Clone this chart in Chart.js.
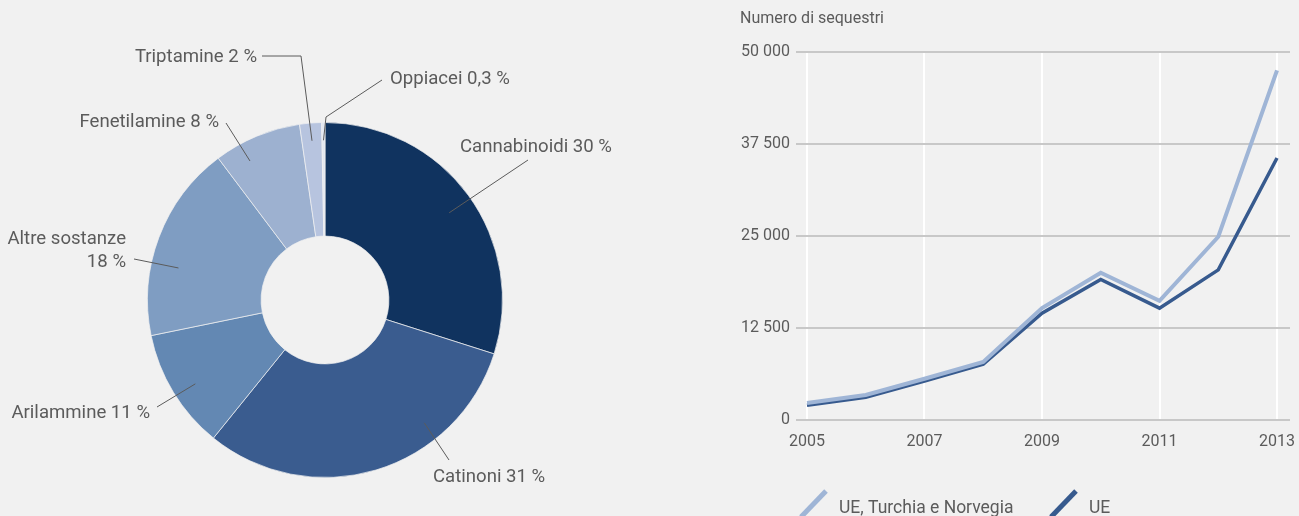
<!DOCTYPE html>
<html lang="it">
<head>
<meta charset="utf-8">
<script src="https://cdn.jsdelivr.net/npm/chart.js@4.4.1/dist/chart.umd.min.js"></script>
<style>
    html, body { margin: 0; padding: 0; background: #f1f1f1; }
    #wrap { position: relative; width: 1299px; height: 516px; overflow: hidden; }
    #substances-chart { position: absolute; left: 0; top: 0; }
    #seizures-chart { position: absolute; left: 650px; top: 0; }
</style>
</head>
<body>
<div id="wrap">
    <canvas id="substances-chart" width="650" height="516"></canvas>
    <canvas id="seizures-chart" width="649" height="516"></canvas>
</div>
<script>
// data
const substances = ['Cannabinoidi', 'Catinoni', 'Arilammine', 'Altre sostanze', 'Fenetilamine', 'Triptamine', 'Oppiacei'];
const shares = [30, 31, 11, 18, 8, 2, 0.3];
const years = [2005, 2006, 2007, 2008, 2009, 2010, 2011, 2012, 2013];
const seizuresUeTrNo = [2300, 3400, 5600, 7900, 15200, 20000, 16200, 24900, 47500];
const seizuresUe = [2000, 3100, 5300, 7600, 14500, 19100, 15200, 20400, 35600];
const seriesNames = ['UE, Turchia e Norvegia', 'UE'];
const yearTicks = [2005, 2007, 2009, 2011, 2013];
const seizureTicks = [0, 12500, 25000, 37500, 50000];
const axisTitle = 'Numero di sequestri';

const textColor = '#5b5b5b';
const sliceColors = ['#10335f', '#3a5c8f', '#6388b3', '#7f9dc2', '#9db1d0', '#b7c4df', '#e3e8f1'];

Chart.defaults.font.family = 'Roboto';
Chart.defaults.color = textColor;

// label placement, offsets from the doughnut centre
const pieLabelLayout = [
    { frac: 0.51, r: 0.855, path: [[203, -140]], text: [135, -148], align: 'left' },
    { frac: 0.30, r: 0.89, path: [[124, 160]], text: [108, 182], align: 'left' },
    { frac: 0.46, r: 0.87, path: [[-168, 107]], text: [-175, 118], align: 'right' },
    { frac: 0.37, r: 0.845, path: [[-191, -41]], text: [-199, -33], align: 'right', split: 23 },
    { frac: 0.30, r: 0.89, path: [[-99, -177]], text: [-106, -173], align: 'right' },
    { frac: 0.5, r: 0.9, path: [[-24, -244], [-63, -244]], text: [-68, -238], align: 'right' },
    { frac: 0.5, r: 0.9, path: [[1, -183], [57, -220]], text: [65, -216], align: 'left' },
];

function formatShare(v) {
    return String(v).replace('.', ',') + ' %';
}

function formatThousands(v) {
    return String(v).replace(/\B(?=(\d{3})+(?!\d))/g, ' ');
}

const pieLabels = {
    id: 'pieLabels',
    afterDatasetsDraw(chart) {
        const ctx = chart.ctx;
        const arcs = chart.getDatasetMeta(0).data;
        ctx.save();
        ctx.strokeStyle = '#5b5b5b';
        ctx.lineWidth = 1;
        ctx.fillStyle = textColor;
        ctx.font = '18.6px Roboto';
        ctx.textBaseline = 'alphabetic';
        arcs.forEach((arc, i) => {
            const lay = pieLabelLayout[i];
            const { x, y, startAngle, endAngle, outerRadius } = arc.getProps(['x', 'y', 'startAngle', 'endAngle', 'outerRadius'], true);
            const a = startAngle + (endAngle - startAngle) * lay.frac;
            const r = outerRadius * lay.r;
            ctx.beginPath();
            ctx.moveTo(x + Math.cos(a) * r, y + Math.sin(a) * r);
            lay.path.forEach(p => ctx.lineTo(x + p[0], y + p[1]));
            ctx.stroke();

            ctx.textAlign = lay.align;
            if (lay.split) {
                ctx.fillText(substances[i], x + lay.text[0], y + lay.text[1] - lay.split);
                ctx.fillText(formatShare(shares[i]), x + lay.text[0], y + lay.text[1]);
            } else {
                ctx.fillText(substances[i] + ' ' + formatShare(shares[i]), x + lay.text[0], y + lay.text[1]);
            }
        });
        ctx.restore();
    }
};

new Chart(document.getElementById('substances-chart'), {
    type: 'doughnut',
    plugins: [pieLabels],
    options: {
        responsive: false,
        animation: false,
        events: [],
        cutout: '36%',
        layout: { padding: { top: 122, bottom: 38, left: 0, right: 0 } },
        plugins: {
            legend: { display: false },
            tooltip: { enabled: false }
        }
    },
    data: {
        labels: substances,
        datasets: [{
            data: shares,
            backgroundColor: sliceColors,
            borderColor: 'rgba(241, 241, 241, 0.7)',
            borderWidth: 1
        }]
    }
});

const seizuresDecor = {
    id: 'seizuresDecor',
    afterDraw(chart) {
        const ctx = chart.ctx;
        ctx.save();
        ctx.fillStyle = textColor;
        ctx.font = '16px Roboto';
        ctx.textAlign = 'left';
        ctx.textBaseline = 'alphabetic';
        ctx.fillText(axisTitle, 90, 23);

        // legend with slanted line keys
        const keyX = [151, 401];
        ctx.font = '17.5px Roboto';
        chart.data.datasets.forEach((ds, i) => {
            ctx.strokeStyle = ds.borderColor;
            ctx.lineWidth = 5;
            ctx.beginPath();
            ctx.moveTo(keyX[i], 517);
            ctx.lineTo(keyX[i] + 25, 491);
            ctx.stroke();
            ctx.fillStyle = textColor;
            ctx.fillText(ds.label, keyX[i] + 38, 513);
        });
        ctx.restore();
    }
};

new Chart(document.getElementById('seizures-chart'), {
    type: 'line',
    plugins: [seizuresDecor],
    options: {
        responsive: false,
        animation: false,
        events: [],
        layout: { padding: { top: 52, right: 9, left: 0, bottom: 0 } },
        scales: {
            x: {
                type: 'linear',
                min: 2004.813,
                max: 2013.221,
                afterBuildTicks: axis => { axis.ticks = yearTicks.map(v => ({ value: v })); },
                afterFit: axis => {
                    axis.height = 96;
                    axis.paddingLeft = 0;
                    axis.paddingRight = 0;
                },
                border: { display: false },
                grid: { color: '#ffffff', lineWidth: 2, drawTicks: false },
                ticks: {
                    padding: 12,
                    font: { size: 16 },
                    color: textColor,
                    callback: v => String(v)
                }
            },
            y: {
                min: 0,
                max: 50000,
                afterBuildTicks: axis => { axis.ticks = seizureTicks.map(v => ({ value: v })); },
                afterFit: axis => {
                    axis.width = 146;
                    axis.paddingTop = 0;
                    axis.paddingBottom = 0;
                },
                border: { display: false },
                grid: { color: '#c8c8c8', lineWidth: 2, drawTicks: false },
                ticks: {
                    padding: 6,
                    font: { size: 16 },
                    color: textColor,
                    callback: v => formatThousands(v)
                }
            }
        },
        plugins: {
            legend: { display: false },
            tooltip: { enabled: false }
        }
    },
    data: {
        datasets: [
            {
                label: seriesNames[0],
                data: years.map((y, i) => ({ x: y, y: seizuresUeTrNo[i] })),
                borderColor: '#9fb5d6',
                borderWidth: 4,
                pointRadius: 0,
                tension: 0
            },
            {
                label: seriesNames[1],
                data: years.map((y, i) => ({ x: y, y: seizuresUe[i] })),
                borderColor: '#375a8e',
                borderWidth: 3.5,
                pointRadius: 0,
                tension: 0
            }
        ]
    }
});
</script>
</body>
</html>
